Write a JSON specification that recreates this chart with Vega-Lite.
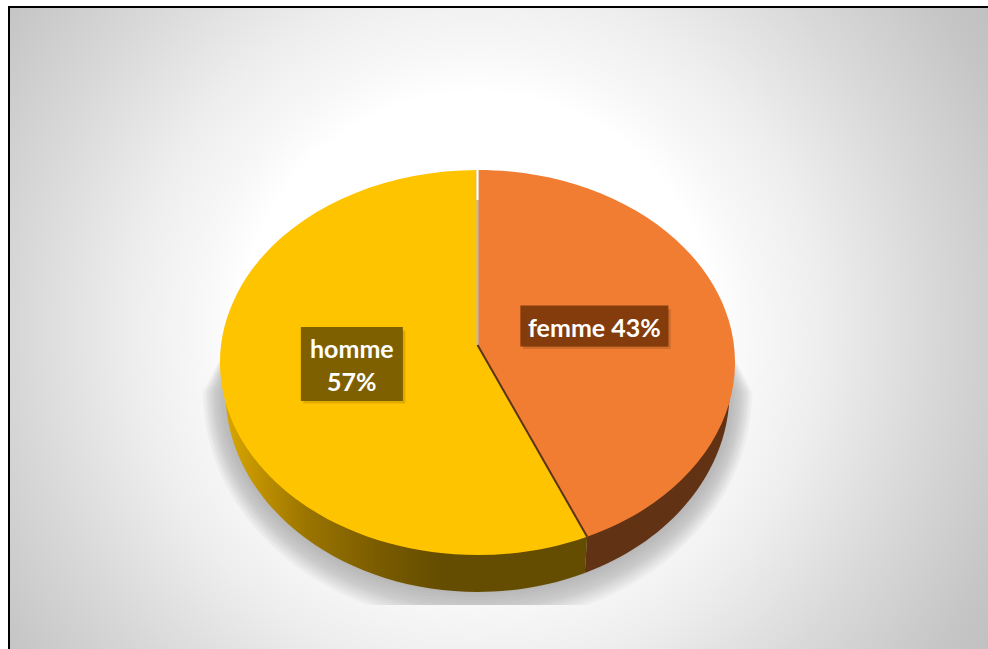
{
  "$schema": "https://vega.github.io/schema/vega-lite/v6.json",
  "width": 978,
  "height": 641,
  "padding": {"left": 10, "top": 8, "right": 0, "bottom": 0},
  "autosize": "none",
  "background": "#ffffff",
  "config": {
    "view": {
      "stroke": null,
      "fill": {
        "gradient": "radial",
        "x1": 0.478, "y1": 0.5, "r1": 0,
        "x2": 0.478, "y2": 0.5, "r2": 0.65,
        "stops": [
          {"offset": 0, "color": "#ffffff"},
          {"offset": 0.37, "color": "#ffffff"},
          {"offset": 0.43, "color": "#f8f8f8"},
          {"offset": 0.54, "color": "#eeeeee"},
          {"offset": 0.72, "color": "#d8d8d8"},
          {"offset": 0.88, "color": "#c6c6c6"},
          {"offset": 1, "color": "#bcbcbc"}
        ]
      }
    }
  },
  "params": [
    {"name": "cx", "value": 467.5},
    {"name": "cy", "value": 354.5},
    {"name": "rx", "value": 257.5},
    {"name": "ry", "value": 192.5},
    {"name": "apexY", "value": 337},
    {"name": "baseCy", "value": 384},
    {"name": "baseRx", "value": 252},
    {"name": "baseRy", "value": 200},
    {"name": "shadowFloor", "value": 597}
  ],
  "data": {
    "values": [
      {"genre": "femme", "part": 43},
      {"genre": "homme", "part": 57}
    ]
  },
  "transform": [
    {"joinaggregate": [{"op": "sum", "field": "part", "as": "total"}]},
    {"window": [{"op": "sum", "field": "part", "as": "cumul"}], "sort": [{"field": "genre", "order": "ascending"}]},
    {"calculate": "2 * PI * datum.cumul / datum.total", "as": "a1"},
    {"calculate": "datum.a1 - 2 * PI * datum.part / datum.total", "as": "a0"},
    {"calculate": "(datum.a0 + datum.a1) / 2", "as": "mid"},
    {"calculate": "datum.a1 - datum.a0 > PI ? 1 : 0", "as": "large"},
    {"calculate": "round(100 * rx * sin(datum.a0)) / 100 + ',' + round(100 * (cy - apexY - ry * cos(datum.a0))) / 100", "as": "top0"},
    {"calculate": "round(100 * rx * sin(datum.a1)) / 100 + ',' + round(100 * (cy - apexY - ry * cos(datum.a1))) / 100", "as": "top1"},
    {"calculate": "round(100 * baseRx * sin(datum.a0)) / 100 + ',' + round(100 * (baseCy - apexY - baseRy * cos(datum.a0))) / 100", "as": "base0"},
    {"calculate": "round(100 * baseRx * sin(datum.a1)) / 100 + ',' + round(100 * (baseCy - apexY - baseRy * cos(datum.a1))) / 100", "as": "base1"},
    {"calculate": "'M0,0 L' + datum.top0 + ' A' + rx + ',' + ry + ',0,' + datum.large + ',1,' + datum.top1 + ' Z'", "as": "wedge"},
    {"calculate": "'M' + datum.top0 + ' L' + datum.base0 + ' A' + baseRx + ',' + baseRy + ',0,' + datum.large + ',1,' + datum.base1 + ' L' + datum.top1 + ' Z'", "as": "wall"},
    {"calculate": "'M0,0 L' + datum.top0", "as": "edgeStart"},
    {"calculate": "'M0,0 L' + datum.top1", "as": "edgeEnd"},
    {"calculate": "'M0,' + (cy - apexY - ry) + ' L0,' + (cy - apexY - ry + 30)", "as": "edgeGlint"},
    {"calculate": "cx", "as": "apexPx"},
    {"calculate": "apexY", "as": "apexPy"},
    {"calculate": "cx + (datum.genre === 'homme' ? 0.5 : 0.465) * rx * sin(datum.mid)", "as": "lx"},
    {"calculate": "apexY - 0.45 * ry * cos(datum.mid)", "as": "ly"},
    {"calculate": "datum.genre === 'homme' ? 51 : 74", "as": "hw"},
    {"calculate": "datum.genre === 'homme' ? 37 : 20.5", "as": "hh"},
    {"calculate": "datum.lx - datum.hw", "as": "bx0"},
    {"calculate": "datum.lx + datum.hw", "as": "bx1"},
    {"calculate": "datum.ly - datum.hh", "as": "by0"},
    {"calculate": "datum.ly + datum.hh", "as": "by1"},
    {"calculate": "datum.genre === 'homme' ? [datum.genre, datum.part + '%'] : datum.genre + ' ' + datum.part + '%'", "as": "etiquette"},
    {"calculate": "datum.ly + 2.5 - (datum.genre === 'homme' ? 16.5 : 0)", "as": "ty"}
  ],
  "encoding": {
    "x": {"field": "apexPx", "type": "quantitative", "scale": null, "axis": null},
    "y": {"field": "apexPy", "type": "quantitative", "scale": null, "axis": null}
  },
  "resolve": {"scale": {"fill": "independent"}},
  "layer": [
    {
      "data": {
        "values": [
          {"halo": 2}, {"halo": 5}, {"halo": 8}, {"halo": 11}, {"halo": 14}, {"halo": 17}, {"halo": 19},
          {"halo": 21}, {"halo": 23}, {"halo": 25}, {"halo": 27}, {"halo": 29}, {"halo": 31}, {"halo": 33}
        ]
      },
      "transform": [
        {"calculate": "cx", "as": "apexPx"},
        {"calculate": "apexY", "as": "apexPy"},
        {"calculate": "round(baseRx + 0.7 * datum.halo)", "as": "hx"},
        {"calculate": "baseRy + datum.halo", "as": "hy"},
        {"calculate": "shadowFloor - baseCy", "as": "floorDy"},
        {"calculate": "datum.hy > datum.floorDy ? round(datum.hx * sqrt(1 - pow(datum.floorDy / datum.hy, 2))) : 0", "as": "chord"},
        {"calculate": "min(datum.hy, datum.floorDy) + baseCy - apexY", "as": "lowY"},
        {"calculate": "baseCy - apexY", "as": "midY"},
        {"calculate": "'M-240,-20 L240,-20 L' + datum.hx + ',' + datum.midY + ' A' + datum.hx + ',' + datum.hy + ',0,0,1,' + datum.chord + ',' + datum.lowY + ' L-' + datum.chord + ',' + datum.lowY + ' A' + datum.hx + ',' + datum.hy + ',0,0,1,-' + datum.hx + ',' + datum.midY + ' Z'", "as": "halo_path"}
      ],
      "mark": {"type": "point", "filled": true, "size": 4, "strokeWidth": 0, "fill": "#000000", "opacity": 0.018},
      "encoding": {"shape": {"field": "halo_path", "type": "nominal", "scale": null, "legend": null}}
    },
    {
      "transform": [{"filter": "datum.genre === 'femme'"}],
      "mark": {"type": "point", "filled": true, "opacity": 1, "size": 4, "strokeWidth": 0, "fill": "#613214"},
      "encoding": {"shape": {"field": "wall", "type": "nominal", "scale": null, "legend": null}}
    },
    {
      "transform": [{"filter": "datum.genre === 'homme'"}],
      "mark": {
        "type": "point",
        "filled": true,
        "opacity": 1,
        "size": 4,
        "strokeWidth": 0,
        "fill": {
          "gradient": "linear",
          "x1": 0, "y1": 0, "x2": 1, "y2": 0,
          "stops": [
            {"offset": 0, "color": "#d9a600"},
            {"offset": 0.22, "color": "#9c7500"},
            {"offset": 0.42, "color": "#7a5c00"},
            {"offset": 0.6, "color": "#644c00"},
            {"offset": 1, "color": "#644c00"}
          ]
        }
      },
      "encoding": {"shape": {"field": "wall", "type": "nominal", "scale": null, "legend": null}}
    },
    {
      "mark": {"type": "point", "filled": true, "opacity": 1, "size": 4, "strokeWidth": 0},
      "encoding": {
        "shape": {"field": "wedge", "type": "nominal", "scale": null, "legend": null},
        "fill": {
          "field": "genre",
          "type": "nominal",
          "legend": null,
          "scale": {"domain": ["femme", "homme"], "range": ["#f07d31", "#ffc400"]}
        }
      }
    },
    {
      "transform": [{"filter": "datum.genre === 'femme'"}],
      "mark": {"type": "point", "filled": false, "opacity": 1, "size": 4, "strokeWidth": 2, "stroke": "#bdbdbd"},
      "encoding": {"shape": {"field": "edgeStart", "type": "nominal", "scale": null, "legend": null}}
    },
    {
      "transform": [{"filter": "datum.genre === 'femme'"}],
      "mark": {"type": "point", "filled": false, "opacity": 1, "size": 4, "strokeWidth": 2, "stroke": "#ffffff"},
      "encoding": {"shape": {"field": "edgeGlint", "type": "nominal", "scale": null, "legend": null}}
    },
    {
      "transform": [{"filter": "datum.genre === 'femme'"}],
      "mark": {"type": "point", "filled": false, "opacity": 1, "size": 4, "strokeWidth": 2, "stroke": "#5a3412"},
      "encoding": {"shape": {"field": "edgeEnd", "type": "nominal", "scale": null, "legend": null}}
    },
    {
      "mark": {"type": "rect", "fill": "#000000", "opacity": 0.12, "xOffset": 5, "yOffset": 6, "stroke": "#000000", "strokeWidth": 5},
      "encoding": {
        "x": {"field": "bx0", "type": "quantitative", "scale": null, "axis": null},
        "x2": {"field": "bx1"},
        "y": {"field": "by0", "type": "quantitative", "scale": null, "axis": null},
        "y2": {"field": "by1"}
      }
    },
    {
      "mark": {"type": "rect", "fill": "#000000", "opacity": 0.3, "xOffset": 4, "yOffset": 5},
      "encoding": {
        "x": {"field": "bx0", "type": "quantitative", "scale": null, "axis": null},
        "x2": {"field": "bx1"},
        "y": {"field": "by0", "type": "quantitative", "scale": null, "axis": null},
        "y2": {"field": "by1"}
      }
    },
    {
      "mark": {"type": "rect", "opacity": 1},
      "encoding": {
        "x": {"field": "bx0", "type": "quantitative", "scale": null, "axis": null},
        "x2": {"field": "bx1"},
        "y": {"field": "by0", "type": "quantitative", "scale": null, "axis": null},
        "y2": {"field": "by1"},
        "fill": {
          "field": "genre",
          "type": "nominal",
          "legend": null,
          "scale": {"domain": ["femme", "homme"], "range": ["#843c0c", "#7f6000"]}
        }
      }
    },
    {
      "mark": {"type": "text", "font": "Lato", "fontWeight": "bold", "fontSize": 25, "color": "#ffffff", "align": "center", "baseline": "middle", "lineHeight": 33},
      "encoding": {
        "x": {"field": "lx", "type": "quantitative", "scale": null, "axis": null},
        "y": {"field": "ty", "type": "quantitative", "scale": null, "axis": null},
        "text": {"field": "etiquette"}
      }
    },
    {
      "transform": [{"filter": "datum.genre === 'femme'"}],
      "mark": {"type": "rule", "color": "#000000", "strokeWidth": 2},
      "encoding": {
        "x": {"value": -2},
        "x2": {"value": "width"},
        "y": {"value": -1},
        "y2": {"value": -1}
      }
    },
    {
      "transform": [{"filter": "datum.genre === 'femme'"}],
      "mark": {"type": "rule", "color": "#000000", "strokeWidth": 2},
      "encoding": {
        "x": {"value": -1},
        "x2": {"value": -1},
        "y": {"value": -2},
        "y2": {"value": "height"}
      }
    }
  ]
}
